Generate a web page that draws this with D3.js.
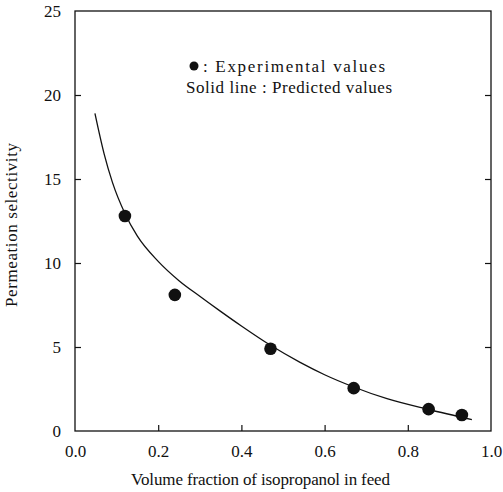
<!DOCTYPE html>
<html>
<head>
<meta charset="utf-8">
<script src="https://cdn.jsdelivr.net/npm/d3@7"></script>
<style>
  body { margin: 0; background: #fff; }
  text { font-family: "Liberation Serif", "DejaVu Serif", serif; fill: #111; }
</style>
</head>
<body>
<div id="chart"></div>
<script>
// experimental points
var expX = [0.12, 0.24, 0.47, 0.67, 0.85, 0.93];
var expY = [12.8, 8.1, 4.9, 2.55, 1.3, 0.95];

// predicted curve
var predX = [0.048, 0.07, 0.09, 0.12, 0.15, 0.2, 0.25, 0.3, 0.35, 0.4, 0.47, 0.54, 0.6, 0.67, 0.75, 0.85, 0.954];
var predY = [18.9, 16.5, 14.8, 12.95, 11.6, 10.1, 8.95, 8.02, 7.12, 6.25, 5.1, 4.1, 3.35, 2.62, 1.92, 1.28, 0.68];

var xTicks = [0, 0.2, 0.4, 0.6, 0.8, 1.0];
var yTicks = [0, 5, 10, 15, 20, 25];

var width = 503, height = 492;
var padL = 75, padR = 491, padT = 11, padB = 431;

var svg = d3.select("#chart").append("svg")
  .attr("width", width)
  .attr("height", height);

var x = d3.scaleLinear().domain([0, 1]).range([padL, padR]);
var y = d3.scaleLinear().domain([0, 25]).range([padB, padT]);

// frame
svg.append("rect")
  .attr("x", padL).attr("y", padT)
  .attr("width", padR - padL).attr("height", padB - padT)
  .attr("fill", "none").attr("stroke", "#111").attr("stroke-width", 1.3);

// axes with inward ticks
var xAxis = d3.axisBottom(x).tickValues(xTicks).tickFormat(d3.format(".1f")).tickSizeInner(-6).tickSizeOuter(0).tickPadding(14);
var yAxis = d3.axisLeft(y).tickValues(yTicks).tickFormat(d3.format("d")).tickSizeInner(-6).tickSizeOuter(0).tickPadding(14);

var gx = svg.append("g").attr("transform", "translate(0," + padB + ")").call(xAxis);
var gy = svg.append("g").attr("transform", "translate(" + padL + ",0)").call(yAxis);
var gr = svg.append("g").attr("transform", "translate(" + padR + ",0)")
  .call(d3.axisRight(y).tickValues(yTicks).tickSizeInner(-6).tickSizeOuter(0).tickFormat(""));

[gx, gy, gr].forEach(function(g){
  g.select(".domain").remove();
  g.selectAll(".tick line").attr("stroke", "#111").attr("stroke-width", 1.2);
  g.selectAll("text").style("font-family", '"Liberation Serif", serif').style("font-size", "17px").attr("fill", "#111");
});
// ends of the frame carry no tick marks
gx.selectAll(".tick").filter(function(d){ return d == 0 || d == 1; }).select("line").remove();
gy.selectAll(".tick").filter(function(d){ return d == 0 || d == 25; }).select("line").remove();
gr.selectAll(".tick").filter(function(d){ return d == 0 || d == 25; }).select("line").remove();

// predicted line
var line = d3.line()
  .x(function(d){ return x(d[0]); })
  .y(function(d){ return y(d[1]); })
  .curve(d3.curveMonotoneX);

svg.append("path")
  .datum(d3.zip(predX, predY))
  .attr("d", line)
  .attr("fill", "none")
  .attr("stroke", "#111")
  .attr("stroke-width", 1.3);

// experimental dots
svg.selectAll(".dot")
  .data(d3.zip(expX, expY))
  .enter()
  .append("circle")
  .attr("class", "dot")
  .attr("cx", function(d){ return x(d[0]); })
  .attr("cy", function(d){ return y(d[1]); })
  .attr("r", 6.3)
  .attr("fill", "#111");

// legend
svg.append("circle").attr("cx", 194).attr("cy", 66).attr("r", 4.5).attr("fill", "#111");
svg.append("text").attr("x", 203).attr("y", 72).style("font-size", "17px")
  .attr("textLength", 182).attr("lengthAdjust", "spacing")
  .text(": Experimental values");
svg.append("text").attr("x", 186).attr("y", 93).style("font-size", "17px")
  .attr("textLength", 206).attr("lengthAdjust", "spacing")
  .text("Solid line : Predicted values");

// axis titles
svg.append("text")
  .attr("x", 131).attr("y", 485)
  .style("font-size", "17px")
  .attr("textLength", 259).attr("lengthAdjust", "spacing")
  .text("Volume fraction of isopropanol in feed");

svg.append("text")
  .attr("transform", "translate(17,307) rotate(-90)")
  .style("font-size", "17px")
  .attr("textLength", 164).attr("lengthAdjust", "spacing")
  .text("Permeation selectivity");
</script>
</body>
</html>
